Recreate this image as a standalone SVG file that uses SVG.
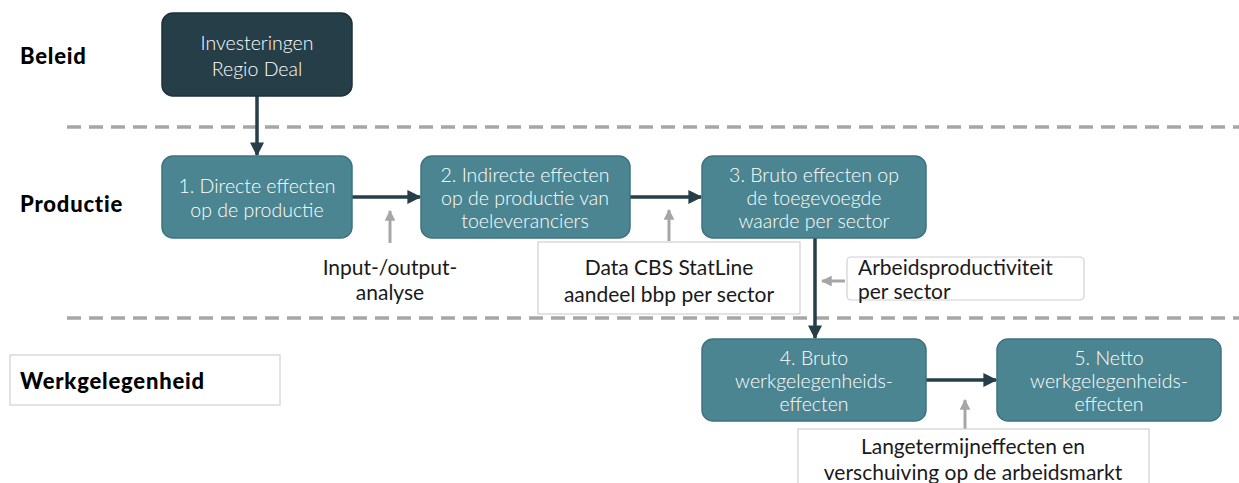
<svg xmlns="http://www.w3.org/2000/svg" width="1239" height="483" viewBox="0 0 1239 483">
<style>
.node{fill:#4b8591;stroke:#3d7480;stroke-width:1.5}
.dark{fill:#253e48;stroke:#1c3139;stroke-width:1.5}
.nt{font-family:Lato,"Noto Sans",sans-serif;font-size:19.5px;font-weight:300;fill:#ffffff;text-anchor:middle}
.lt{font-family:Lato,"Noto Sans",sans-serif;font-size:21px;fill:#1a1a1a}
.hd{font-family:Lato,"Noto Sans",sans-serif;font-size:22px;font-weight:900;letter-spacing:0.8px;fill:#000}
.box{fill:#fff;stroke:#d0d0d0;stroke-width:1.2}
.dash{stroke:#a6a6a6;stroke-width:3.5;stroke-dasharray:14 8}
.main{stroke:#253e48;stroke-width:3.5;fill:none}
.aux{stroke:#a6a6a6;stroke-width:3;fill:none}
</style>
<defs>
<marker id="ah" viewBox="0 0 10 10" refX="9" refY="5" markerWidth="4" markerHeight="4" orient="auto" markerUnits="strokeWidth"><path d="M0,0 L10,5 L0,10 Z" fill="#253e48"/></marker>
<marker id="ag" viewBox="0 0 10 10" refX="9" refY="5" markerWidth="3.6" markerHeight="3.6" orient="auto" markerUnits="strokeWidth"><path d="M0,0 L10,5 L0,10 Z" fill="#a6a6a6"/></marker>
</defs>
<rect width="1239" height="483" fill="#fff"/>
<g id="separators">
<line class="dash" x1="67" y1="127" x2="1239" y2="127"/>
<line class="dash" x1="67" y1="318" x2="1239" y2="318"/>
</g>
<g id="lane-beleid"><text class="hd" x="20" y="64">Beleid</text></g>
<g id="lane-productie"><text class="hd" x="20" y="212">Productie</text></g>
<g id="lane-werk"><rect class="box" x="10" y="355" width="270" height="50"/><text class="hd" x="20" y="389">Werkgelegenheid</text></g>
<g id="connectors">
<line class="main" x1="257" y1="96" x2="257" y2="155" marker-end="url(#ah)"/>
<line class="main" x1="352" y1="197" x2="420" y2="197" marker-end="url(#ah)"/>
<line class="main" x1="630" y1="197" x2="701" y2="197" marker-end="url(#ah)"/>
<line class="main" x1="815" y1="238" x2="815" y2="338" marker-end="url(#ah)"/>
<line class="main" x1="926" y1="380" x2="996" y2="380" marker-end="url(#ah)"/>
<line class="aux" x1="390" y1="243" x2="390" y2="211" marker-end="url(#ag)"/>
<line class="aux" x1="669" y1="241" x2="669" y2="210" marker-end="url(#ag)"/>
<line class="aux" x1="845" y1="281" x2="822" y2="281" marker-end="url(#ag)"/>
<line class="aux" x1="965" y1="430" x2="965" y2="400" marker-end="url(#ag)"/>
</g>
<g id="n0"><rect class="dark" x="162" y="13" width="190" height="83" rx="11"/><text class="nt" x="257" y="50">Investeringen</text><text class="nt" x="257" y="76">Regio Deal</text></g>
<g id="n1"><rect class="node" x="162" y="156" width="190" height="82" rx="11"/><text class="nt" x="257" y="193">1. Directe effecten</text><text class="nt" x="257" y="217">op de productie</text></g>
<g id="n2"><rect class="node" x="421" y="156" width="209" height="82" rx="11"/><text class="nt" x="525" y="182">2. Indirecte effecten</text><text class="nt" x="525" y="205">op de productie van</text><text class="nt" x="525" y="228">toeleveranciers</text></g>
<g id="n3"><rect class="node" x="702" y="156" width="224" height="82" rx="11"/><text class="nt" x="814" y="182">3. Bruto effecten op</text><text class="nt" x="814" y="205">de toegevoegde</text><text class="nt" x="814" y="228">waarde per sector</text></g>
<g id="n4"><rect class="node" x="702" y="339" width="224" height="82" rx="11"/><text class="nt" x="814" y="365">4. Bruto</text><text class="nt" x="814" y="388">werkgelegenheids-</text><text class="nt" x="814" y="411">effecten</text></g>
<g id="n5"><rect class="node" x="997" y="339" width="224" height="82" rx="11"/><text class="nt" x="1109" y="365">5. Netto</text><text class="nt" x="1109" y="388">werkgelegenheids-</text><text class="nt" x="1109" y="411">effecten</text></g>
<g id="i1"><text class="lt" x="390" y="275" text-anchor="middle">Input-/output-</text><text class="lt" x="390" y="300" text-anchor="middle">analyse</text></g>
<g id="i2"><rect class="box" x="538" y="242" width="262" height="72"/><text class="lt" x="669" y="275" text-anchor="middle">Data CBS StatLine</text><text class="lt" x="669" y="302" text-anchor="middle">aandeel bbp per sector</text></g>
<g id="i3"><rect class="box" x="847" y="257" width="237" height="43" rx="4"/><text class="lt" x="858" y="275">Arbeidsproductiviteit</text><text class="lt" x="858" y="299">per sector</text></g>
<g id="i4"><rect class="box" x="798" y="429" width="351" height="60"/><text class="lt" x="973" y="454" text-anchor="middle">Langetermijneffecten en</text><text class="lt" x="973" y="480" text-anchor="middle">verschuiving op de arbeidsmarkt</text></g>
</svg>
